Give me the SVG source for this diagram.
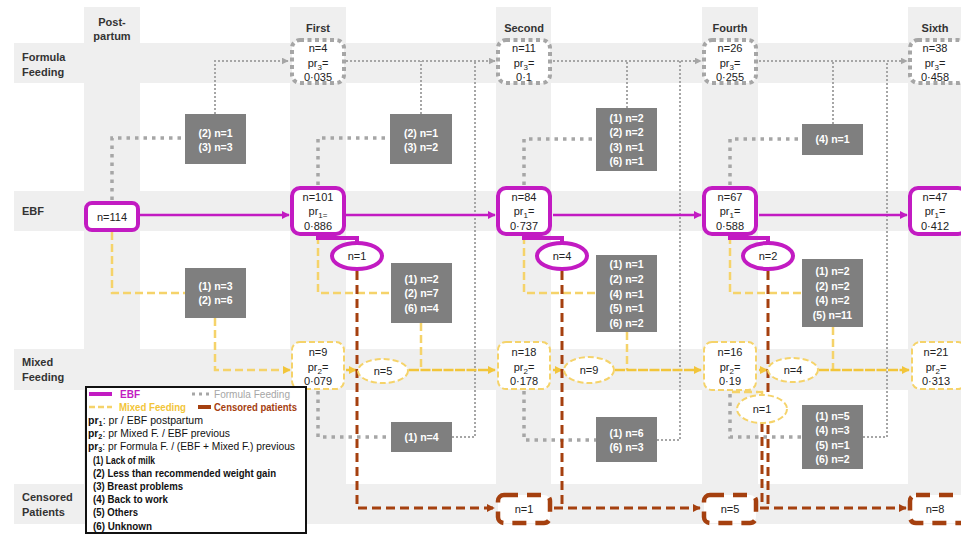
<svg xmlns="http://www.w3.org/2000/svg" width="961" height="534" viewBox="0 0 961 534">
<defs>
<style>
.band{fill:#efefef}
.hdr{font:bold 11px "Liberation Sans",Arial,sans-serif;fill:#333;text-anchor:middle}
.rowl{font:bold 11px "Liberation Sans",Arial,sans-serif;fill:#333}
.nt{font:11px "Liberation Sans",Arial,sans-serif;fill:#222;text-anchor:middle}
.ff{fill:#fff;stroke:#a6a6a6;stroke-width:4;stroke-dasharray:4 3.5}
.ebf{fill:#fff;stroke:#c21bc2;stroke-width:4}
.mf{fill:#fff;stroke:#f5d36a;stroke-width:2;stroke-dasharray:6 3}
.cp{fill:#fff;stroke:#a5400f;stroke-width:4.5;stroke-dasharray:14 9}
.gb{fill:#7f7f7f}
.gt{font:bold 10.5px "Liberation Sans",Arial,sans-serif;fill:#fff;text-anchor:middle}
.cff{fill:none;stroke:#a6a6a6;stroke-width:3.5;stroke-dasharray:3.5 5}
.cft{fill:none;stroke:#a6a6a6;stroke-width:2;stroke-dasharray:2 2}
.cmf{fill:none;stroke:#f5d36a;stroke-width:2.5;stroke-dasharray:8 4}
.cmr{fill:none;stroke:#f2c53a;stroke-width:2.5;stroke-dasharray:10 1.5}
.ceb{fill:none;stroke:#c21bc2;stroke-width:2.5}
.cbr{fill:none;stroke:#c21bc2;stroke-width:4}
.ccp{fill:none;stroke:#a5400f;stroke-width:3;stroke-dasharray:9 5}
.lg{font:10px "Liberation Sans",Arial,sans-serif;fill:#111}
.lgb{font:bold 10px "Liberation Sans",Arial,sans-serif;fill:#111}
</style>
<marker id="aeb" viewBox="0 0 10 10" refX="9" refY="5" markerWidth="8" markerHeight="8" markerUnits="userSpaceOnUse" orient="auto"><path d="M0,0L10,5L0,10z" fill="#c21bc2"/></marker>
<marker id="aff" viewBox="0 0 10 10" refX="9" refY="5" markerWidth="7" markerHeight="7" markerUnits="userSpaceOnUse" orient="auto"><path d="M0,0L10,5L0,10z" fill="#a6a6a6"/></marker>
<marker id="amf" viewBox="0 0 10 10" refX="9" refY="5" markerWidth="8" markerHeight="8" markerUnits="userSpaceOnUse" orient="auto"><path d="M0,0L10,5L0,10z" fill="#f2c53a"/></marker>
<marker id="acp" viewBox="0 0 10 10" refX="9" refY="5" markerWidth="8" markerHeight="8" markerUnits="userSpaceOnUse" orient="auto"><path d="M0,0L10,5L0,10z" fill="#a5400f"/></marker>
</defs>
<rect width="961" height="534" fill="#fff"/>
<g id="background">
<rect class="band" x="14" y="43" width="947" height="40"/>
<rect class="band" x="14" y="191" width="947" height="40"/>
<rect class="band" x="14" y="349" width="947" height="41"/>
<rect class="band" x="14" y="484" width="947" height="40"/>
<rect class="band" x="84" y="7" width="56" height="517"/>
<rect class="band" x="290" y="7" width="56" height="517"/>
<rect class="band" x="496" y="7" width="55" height="517"/>
<rect class="band" x="702" y="7" width="56" height="517"/>
<rect class="band" x="908" y="7" width="53" height="517"/>
</g>
<g id="headers">
<text class="hdr" x="112" y="26">Post-</text>
<text class="hdr" x="112" y="40">partum</text>
<text class="hdr" x="318" y="32">First</text>
<text class="hdr" x="524" y="32">Second</text>
<text class="hdr" x="730" y="32">Fourth</text>
<text class="hdr" x="935" y="32">Sixth</text>
<text class="rowl" x="22" y="61">Formula</text>
<text class="rowl" x="22" y="76">Feeding</text>
<text class="rowl" x="22" y="215">EBF</text>
<text class="rowl" x="22" y="366">Mixed</text>
<text class="rowl" x="22" y="381">Feeding</text>
<text class="rowl" x="22" y="501">Censored</text>
<text class="rowl" x="22" y="516">Patients</text>
</g>
<g id="connectors">
<!-- formula feeding thick dotted -->
<path class="cff" d="M112,200V138H185"/>
<path class="cff" d="M318,185V138H390"/>
<path class="cff" d="M524,185V139H596"/>
<path class="cff" d="M730,185V139H802"/>
<path class="cff" d="M318,391V437H391"/>
<path class="cff" d="M524,391V440H596"/>
<path class="cff" d="M730,394V437H802"/>
<!-- formula feeding thin dotted -->
<path class="cft" d="M215,114V61H288" marker-end="url(#aff)"/>
<path class="cft" d="M421,114V61"/>
<path class="cft" d="M346,61H495" marker-end="url(#aff)"/>
<path class="cft" d="M452,437H475V61"/>
<path class="cft" d="M627,108V61"/>
<path class="cft" d="M553,61H701" marker-end="url(#aff)"/>
<path class="cft" d="M657,440H680V61"/>
<path class="cft" d="M833,124V61"/>
<path class="cft" d="M759,61H907" marker-end="url(#aff)"/>
<path class="cft" d="M863,437H887V61"/>
<!-- mixed feeding dashed -->
<path class="cmf" d="M112,232V293H185"/>
<path class="cmf" d="M215,318V370H290" marker-end="url(#amf)"/>
<path class="cmf" d="M318,236V293H391"/>
<path class="cmf" d="M421,323V370"/>
<path class="cmf" d="M524,236V293H596"/>
<path class="cmf" d="M627,332V370"/>
<path class="cmf" d="M730,236V293H802"/>
<path class="cmf" d="M833,327V370"/>
<path class="cmf" d="M732,392H762V396"/>
<path class="cmr" d="M346,370H356" marker-end="url(#amf)"/>
<path class="cmr" d="M409,370H495" marker-end="url(#amf)"/>
<path class="cmr" d="M553,370H562" marker-end="url(#amf)"/>
<path class="cmr" d="M615,370H701" marker-end="url(#amf)"/>
<path class="cmr" d="M759,370H767" marker-end="url(#amf)"/>
<path class="cmr" d="M819,370H909" marker-end="url(#amf)"/>
<!-- EBF -->
<path class="ceb" d="M140,215H289" marker-end="url(#aeb)"/>
<path class="ceb" d="M346,215H495" marker-end="url(#aeb)"/>
<path class="ceb" d="M553,215H701" marker-end="url(#aeb)"/>
<path class="ceb" d="M759,215H907" marker-end="url(#aeb)"/>
<path class="cbr" d="M318,235V238H357V243"/>
<path class="cbr" d="M524,235V238H562V243"/>
<path class="cbr" d="M730,235V238H768V243"/>
<!-- censored -->
<path class="ccp" d="M357,271V508H494" marker-end="url(#acp)"/>
<path class="ccp" d="M562,271V508"/>
<path class="ccp" d="M554,508H700" marker-end="url(#acp)"/>
<path class="ccp" d="M768,271V508"/>
<path class="ccp" d="M762,423V508"/>
<path class="ccp" d="M760,508H906" marker-end="url(#acp)"/>
</g>
<g id="ff-first"><rect class="ff" x="292" y="40" width="52" height="43" rx="8"/><text class="nt" x="318" y="52">n=4</text><text class="nt" x="318" y="67">pr<tspan font-size="8" dy="3">3</tspan><tspan dy="-3">=</tspan></text><text class="nt" x="318" y="81">0·035</text></g>
<g id="ff-second"><rect class="ff" x="498" y="40" width="52" height="43" rx="8"/><text class="nt" x="524" y="52">n=11</text><text class="nt" x="524" y="67">pr<tspan font-size="8" dy="3">3</tspan><tspan dy="-3">=</tspan></text><text class="nt" x="524" y="81">0·1</text></g>
<g id="ff-fourth"><rect class="ff" x="704" y="40" width="52" height="43" rx="8"/><text class="nt" x="730" y="52">n=26</text><text class="nt" x="730" y="67">pr<tspan font-size="8" dy="3">3</tspan><tspan dy="-3">=</tspan></text><text class="nt" x="730" y="81">0·255</text></g>
<g id="ff-sixth"><rect class="ff" x="910" y="40" width="56" height="43" rx="8"/><text class="nt" x="935" y="52">n=38</text><text class="nt" x="935" y="67">pr<tspan font-size="8" dy="3">3</tspan><tspan dy="-3">=</tspan></text><text class="nt" x="935" y="81">0·458</text></g>
<g id="ebf-post"><rect class="ebf" x="86" y="203" width="52" height="27" rx="6"/><text class="nt" x="112" y="221">n=114</text></g>
<g id="ebf-first"><rect class="ebf" x="292" y="188" width="52" height="46" rx="8"/><text class="nt" x="318" y="201">n=101</text><text class="nt" x="318" y="215">pr<tspan font-size="8" dy="3">1=</tspan></text><text class="nt" x="318" y="230">0·886</text></g>
<g id="ebf-second"><rect class="ebf" x="498" y="188" width="52" height="46" rx="8"/><text class="nt" x="524" y="201">n=84</text><text class="nt" x="524" y="215">pr<tspan font-size="8" dy="3">1</tspan><tspan dy="-3">=</tspan></text><text class="nt" x="524" y="230">0·737</text></g>
<g id="ebf-fourth"><rect class="ebf" x="704" y="188" width="52" height="46" rx="8"/><text class="nt" x="730" y="201">n=67</text><text class="nt" x="730" y="215">pr<tspan font-size="8" dy="3">1</tspan><tspan dy="-3">=</tspan></text><text class="nt" x="730" y="230">0·588</text></g>
<g id="ebf-sixth"><rect class="ebf" x="910" y="188" width="56" height="46" rx="8"/><text class="nt" x="935" y="201">n=47</text><text class="nt" x="935" y="215">pr<tspan font-size="8" dy="3">1</tspan><tspan dy="-3">=</tspan></text><text class="nt" x="935" y="230">0·412</text></g>
<g id="ebf-cens-first"><ellipse class="ebf" cx="357" cy="256" rx="25" ry="13"/><text class="nt" x="357" y="260">n=1</text></g>
<g id="ebf-cens-second"><ellipse class="ebf" cx="562" cy="256" rx="25" ry="13"/><text class="nt" x="562" y="260">n=4</text></g>
<g id="ebf-cens-fourth"><ellipse class="ebf" cx="768" cy="256" rx="25" ry="13"/><text class="nt" x="768" y="260">n=2</text></g>
<g id="mf-first"><rect class="mf" x="292" y="342" width="52" height="47" rx="8"/><text class="nt" x="318" y="356">n=9</text><text class="nt" x="318" y="371">pr<tspan font-size="8" dy="3">2</tspan><tspan dy="-3">=</tspan></text><text class="nt" x="318" y="385">0·079</text></g>
<g id="mf-second"><rect class="mf" x="498" y="342" width="52" height="47" rx="8"/><text class="nt" x="524" y="356">n=18</text><text class="nt" x="524" y="371">pr<tspan font-size="8" dy="3">2</tspan><tspan dy="-3">=</tspan></text><text class="nt" x="524" y="385">0·178</text></g>
<g id="mf-fourth"><rect class="mf" x="704" y="342" width="52" height="48" rx="8"/><text class="nt" x="730" y="356">n=16</text><text class="nt" x="730" y="371">pr<tspan font-size="8" dy="3">2</tspan><tspan dy="-3">=</tspan></text><text class="nt" x="730" y="385">0·19</text></g>
<g id="mf-sixth"><rect class="mf" x="912" y="342" width="54" height="47" rx="8"/><text class="nt" x="936" y="356">n=21</text><text class="nt" x="936" y="371">pr<tspan font-size="8" dy="3">2</tspan><tspan dy="-3">=</tspan></text><text class="nt" x="936" y="385">0·313</text></g>
<g id="mf-cens-first"><ellipse class="mf" cx="383" cy="371" rx="25" ry="12"/><text class="nt" x="383" y="375">n=5</text></g>
<g id="mf-cens-second"><ellipse class="mf" cx="589" cy="370" rx="25" ry="13"/><text class="nt" x="589" y="374">n=9</text></g>
<g id="mf-cens-fourth"><ellipse class="mf" cx="793" cy="370" rx="25" ry="12"/><text class="nt" x="793" y="374">n=4</text></g>
<g id="mf-cens-fourth-2"><ellipse class="mf" cx="762" cy="409" rx="25" ry="14"/><text class="nt" x="762" y="413">n=1</text></g>
<g id="cp-second"><rect class="cp" x="498" y="495" width="52" height="28" rx="6"/><text class="nt" x="524" y="513">n=1</text></g>
<g id="cp-fourth"><rect class="cp" x="704" y="495" width="52" height="28" rx="6"/><text class="nt" x="730" y="513">n=5</text></g>
<g id="cp-sixth"><rect class="cp" x="910" y="495" width="56" height="28" rx="6"/><text class="nt" x="935" y="513">n=8</text></g>
<g id="r1"><rect class="gb" x="185" y="114" width="61" height="50"/><text class="gt" x="215.5" y="137">(2) n=1</text><text class="gt" x="215.5" y="151">(3) n=3</text></g>
<g id="r2"><rect class="gb" x="390" y="114" width="62" height="50"/><text class="gt" x="421" y="137">(2) n=1</text><text class="gt" x="421" y="151">(3) n=2</text></g>
<g id="r3"><rect class="gb" x="596" y="108" width="61" height="63"/><text class="gt" x="626.5" y="122">(1) n=2</text><text class="gt" x="626.5" y="136">(2) n=2</text><text class="gt" x="626.5" y="151">(3) n=1</text><text class="gt" x="626.5" y="165">(6) n=1</text></g>
<g id="r4"><rect class="gb" x="802" y="124" width="61" height="31"/><text class="gt" x="832.5" y="143">(4) n=1</text></g>
<g id="r5"><rect class="gb" x="185" y="268" width="61" height="50"/><text class="gt" x="215.5" y="290">(1) n=3</text><text class="gt" x="215.5" y="304">(2) n=6</text></g>
<g id="r6"><rect class="gb" x="391" y="263" width="61" height="60"/><text class="gt" x="421.5" y="283">(1)  n=2</text><text class="gt" x="421.5" y="297">(2) n=7</text><text class="gt" x="421.5" y="312">(6) n=4</text></g>
<g id="r7"><rect class="gb" x="596" y="255" width="61" height="77"/><text class="gt" x="626.5" y="268">(1) n=1</text><text class="gt" x="626.5" y="283">(2) n=2</text><text class="gt" x="626.5" y="298">(4) n=1</text><text class="gt" x="626.5" y="312">(5) n=1</text><text class="gt" x="626.5" y="327">(6) n=2</text></g>
<g id="r8"><rect class="gb" x="802" y="259" width="61" height="68"/><text class="gt" x="832.5" y="275">(1) n=2</text><text class="gt" x="832.5" y="290">(2) n=2</text><text class="gt" x="832.5" y="304">(4) n=2</text><text class="gt" x="832.5" y="319">(5) n=11</text></g>
<g id="r9"><rect class="gb" x="391" y="422" width="61" height="30"/><text class="gt" x="421.5" y="441">(1) n=4</text></g>
<g id="r10"><rect class="gb" x="596" y="417" width="61" height="45"/><text class="gt" x="626.5" y="437">(1)  n=6</text><text class="gt" x="626.5" y="451">(6) n=3</text></g>
<g id="r11"><rect class="gb" x="802" y="405" width="61" height="64"/><text class="gt" x="832.5" y="420">(1) n=5</text><text class="gt" x="832.5" y="434">(4) n=3</text><text class="gt" x="832.5" y="449">(5) n=1</text><text class="gt" x="832.5" y="463">(6) n=2</text></g>
<g id="legend">
<rect x="86" y="387" width="220" height="146" fill="#fff" stroke="#111" stroke-width="2"/>
<line x1="89" y1="394" x2="112" y2="394" stroke="#c21bc2" stroke-width="4"/>
<text x="120" y="398" font-family="Liberation Sans,Arial,sans-serif" font-size="10" font-weight="bold" fill="#c21bc2">EBF</text>
<line x1="192" y1="394" x2="213" y2="394" stroke="#a6a6a6" stroke-width="3" stroke-dasharray="3 4"/>
<text x="214" y="398" font-family="Liberation Sans,Arial,sans-serif" font-size="10" fill="#a6a6a6" textLength="76" lengthAdjust="spacingAndGlyphs">Formula Feeding</text>
<line x1="89" y1="407" x2="112" y2="407" stroke="#f5d36a" stroke-width="2.5" stroke-dasharray="6 3"/>
<text x="119" y="411" font-family="Liberation Sans,Arial,sans-serif" font-size="10" font-weight="bold" fill="#f2c53a" textLength="67" lengthAdjust="spacingAndGlyphs">Mixed Feeding</text>
<line x1="198" y1="407" x2="211" y2="407" stroke="#a5400f" stroke-width="4"/>
<text x="214" y="411" font-family="Liberation Sans,Arial,sans-serif" font-size="10" font-weight="bold" fill="#a5400f" textLength="83" lengthAdjust="spacingAndGlyphs">Censored patients</text>
<text class="lg" x="88" y="424" textLength="115" lengthAdjust="spacingAndGlyphs"><tspan font-weight="bold">pr<tspan font-size="7" dy="2">1</tspan></tspan><tspan dy="-2">: pr / EBF postpartum</tspan></text>
<text class="lg" x="88" y="437" textLength="142" lengthAdjust="spacingAndGlyphs"><tspan font-weight="bold">pr<tspan font-size="7" dy="2">2</tspan></tspan><tspan dy="-2">: pr Mixed F. / EBF previous</tspan></text>
<text class="lg" x="88" y="450" textLength="207" lengthAdjust="spacingAndGlyphs"><tspan font-weight="bold">pr<tspan font-size="7" dy="2">3</tspan></tspan><tspan dy="-2">: pr Formula F. / (EBF + Mixed F.) previous</tspan></text>
<text class="lgb" x="93" y="464" textLength="62" lengthAdjust="spacingAndGlyphs">(1) Lack of milk</text>
<text class="lgb" x="93" y="477" textLength="183" lengthAdjust="spacingAndGlyphs">(2) Less than recommended weight gain</text>
<text class="lgb" x="93" y="490" textLength="90" lengthAdjust="spacingAndGlyphs">(3) Breast problems</text>
<text class="lgb" x="93" y="503" textLength="75" lengthAdjust="spacingAndGlyphs">(4) Back to work</text>
<text class="lgb" x="93" y="516" textLength="45" lengthAdjust="spacingAndGlyphs">(5) Others</text>
<text class="lgb" x="93" y="530" textLength="59" lengthAdjust="spacingAndGlyphs">(6) Unknown</text>
</g>
</svg>
